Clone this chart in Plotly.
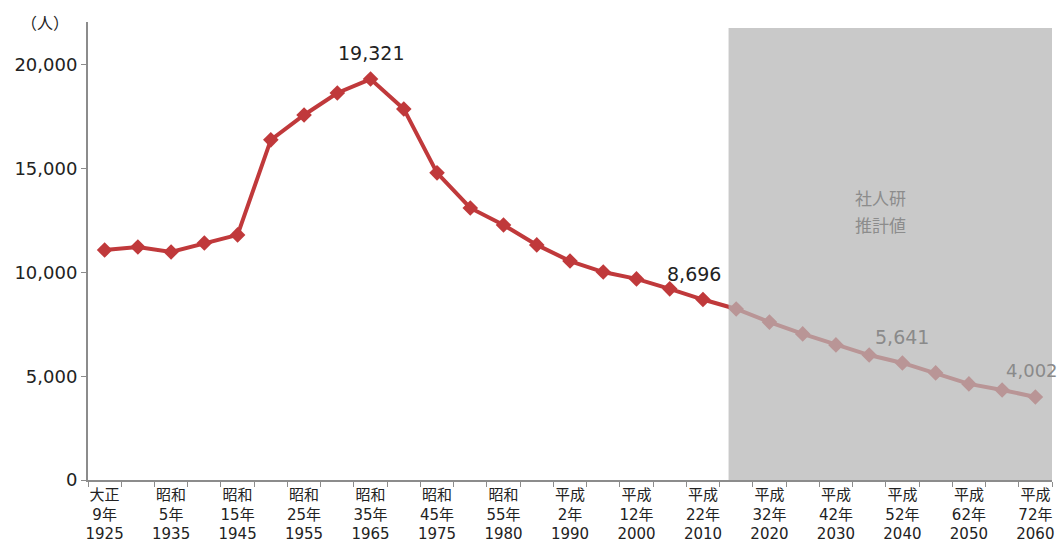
import plotly.graph_objects as go

years = [1925, 1930, 1935, 1940, 1945, 1950, 1955, 1960, 1965, 1970, 1975, 1978,
         1980, 1985, 1990, 1995, 2000, 2005, 2010, 2015, 2020, 2025, 2030, 2035,
         2040, 2045, 2050, 2055, 2060]
population = [11080, 11230, 10990, 11420, 11810, 16390, 17590, 18650, 19321, 17880,
              14800, 13110, 12290, 11330, 10550, 10020, 9690, 9210, 8696, 8240,
              7610, 7040, 6510, 6020, 5641, 5160, 4630, 4340, 4002]
tick_labels = ["大正<br>9年<br>1925", "昭和<br>5年<br>1935", "昭和<br>15年<br>1945",
               "昭和<br>25年<br>1955", "昭和<br>35年<br>1965", "昭和<br>45年<br>1975",
               "昭和<br>55年<br>1980", "平成<br>2年<br>1990", "平成<br>12年<br>2000",
               "平成<br>22年<br>2010", "平成<br>32年<br>2020", "平成<br>42年<br>2030",
               "平成<br>52年<br>2040", "平成<br>62年<br>2050", "平成<br>72年<br>2060"]
labeled_points = [8, 18, 24, 28]
projection_start = 18.77
projection_note = ["社人研", "推計値"]

FONT = "DejaVu Sans, Noto Sans CJK JP"
CJK = "Noto Sans CJK JP"
idx = list(range(len(years)))

fig = go.Figure()
fig.add_trace(go.Scatter(
    x=idx, y=population, mode="lines+markers",
    line=dict(color="#c0393b", width=4),
    marker=dict(symbol="diamond", size=12, color="#c0393b"),
    hoverinfo="y", showlegend=False,
))

fig.add_shape(type="rect", xref="x", yref="y", x0=projection_start, x1=28.5,
              y0=0, y1=21780, fillcolor="rgb(182,182,182)", opacity=0.74,
              line=dict(width=0), layer="above")

shifts = {8: 0, 18: -9, 24: 0, 28: -3}
for i in labeled_points:
    grey = idx[i] > projection_start
    fig.add_annotation(x=idx[i], y=population[i], text=f"{population[i]:,}",
                       showarrow=False, yshift=26, xshift=shifts[i],
                       font=dict(family=FONT, size=19 if i != 28 else 18,
                                 color="#8a8a8a" if grey else "#222222"))

for k, line in enumerate(projection_note):
    fig.add_annotation(x=23.35, y=13600 - k * 1300, text=line, showarrow=False,
                       font=dict(family=CJK, size=17, color="#8c8c8c"))

fig.add_annotation(xref="paper", yref="paper", x=-0.045, y=1.0, text="（人）",
                   showarrow=False, yanchor="middle", xanchor="center",
                   font=dict(family=CJK, size=16, color="#222222"))

fig.update_xaxes(
    range=[-0.5, 28.5], tickmode="array", tickvals=idx[::2], ticktext=tick_labels,
    ticks="", showline=True, linecolor="#8c8c8c", linewidth=2, showgrid=False,
    zeroline=False, automargin=False,
    tickfont=dict(family=FONT, size=15, color="#222222"),
    minor=dict(tickmode="linear", tick0=-0.5, dtick=1, ticks="outside",
               ticklen=5, tickcolor="#8c8c8c", tickwidth=1, showgrid=False),
)
fig.update_yaxes(
    range=[0, 22070], tickvals=[0, 5000, 10000, 15000, 20000], tickformat=",d",
    ticks="outside", ticklen=5, tickcolor="#8c8c8c", showline=True,
    linecolor="#8c8c8c", linewidth=2, showgrid=False, zeroline=False,
    automargin=False,
    tickfont=dict(family=FONT, size=18, color="#222222"),
)
fig.update_layout(
    width=1064, height=543, margin=dict(l=88, r=12, t=22, b=63),
    plot_bgcolor="white", paper_bgcolor="white",
    font=dict(family=FONT),
)
fig.write_html("out.html")
